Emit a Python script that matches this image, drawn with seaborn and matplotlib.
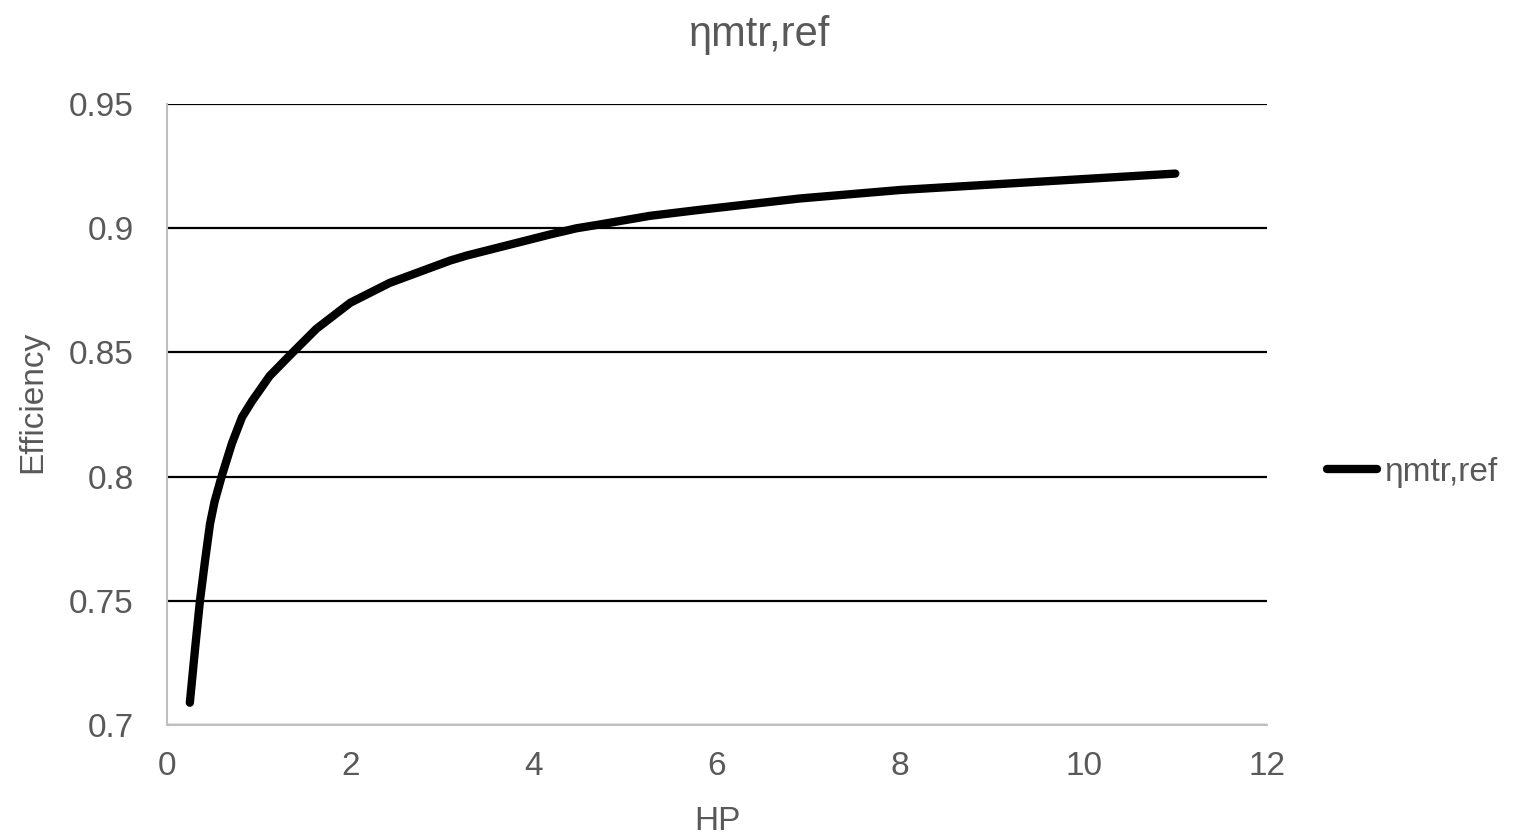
import matplotlib
matplotlib.use('Agg')
import matplotlib.pyplot as plt
import seaborn as sns
import pandas as pd

# ========== 数据 ==========
hp = [0.25, 0.305, 0.36, 0.415, 0.47, 0.52, 0.60, 0.71, 0.82, 0.93, 1.12, 1.34, 1.63,
      2.0, 2.43, 3.09, 3.27, 4.18, 4.47, 4.72, 5.27, 5.81, 6.91, 8.0, 9.27, 11.0]
eff = [0.709, 0.730, 0.750, 0.766, 0.781, 0.790, 0.8005, 0.8135, 0.824, 0.8305, 0.8405,
       0.8488, 0.8595, 0.870, 0.878, 0.887, 0.889, 0.8975, 0.900, 0.9015, 0.905, 0.9074,
       0.912, 0.9154, 0.9182, 0.922]
series_name = 'ηmtr,ref'
x_ticks = [0, 2, 4, 6, 8, 10, 12]
y_ticks = [0.7, 0.75, 0.8, 0.85, 0.9, 0.95]
y_ticklabels = ['0.7', '0.75', '0.8', '0.85', '0.9', '0.95']

df = pd.DataFrame({'HP': hp, 'Efficiency': eff, 'series': series_name})

# ========== 样式 ==========
sns.set_style('white')
plt.rcParams['font.family'] = ['Liberation Sans', 'DejaVu Sans']
TEXT = '#595959'
FS = 24

fig = plt.figure(figsize=(15.4, 8.35), dpi=100)
ax = fig.add_axes([0.1084, 0.1317, 0.7143, 0.7437])

ax.yaxis.grid(True, color='black', linewidth=1.6)
ax.set_axisbelow(True)

sns.lineplot(data=df, x='HP', y='Efficiency', hue='series', palette=['black'],
             linewidth=6, ax=ax, legend=False, sort=False)
ax.lines[-1].set_solid_capstyle('round')
ax.lines[-1].set_solid_joinstyle('round')

ax.set_xlim(0, 12)
ax.set_ylim(0.7, 0.95)
ax.set_xticks(x_ticks)
ax.set_yticks(y_ticks)
ax.set_yticklabels(y_ticklabels)
ax.tick_params(axis='both', length=0, labelsize=FS, labelcolor=TEXT)
ax.tick_params(axis='y', pad=24)
ax.tick_params(axis='x', pad=19)

for side in ['top', 'right']:
    ax.spines[side].set_visible(False)
for side in ['left', 'bottom']:
    ax.spines[side].set_color('#BFBFBF')
    ax.spines[side].set_linewidth(1.5)

ax.set_xlabel('HP', fontsize=FS, color=TEXT, labelpad=17)
ax.set_ylabel('Efficiency', fontsize=FS, color=TEXT)
ax.yaxis.set_label_coords(-0.108, 0.52)

fig.suptitle(series_name, x=0.493, y=0.982, fontsize=30, color=TEXT)

handle = plt.Line2D([], [], color='black', linewidth=6, solid_capstyle='round')
fig.legend([handle], [series_name], loc='center left', bbox_to_anchor=(0.862, 0.434),
           frameon=False, fontsize=FS, labelcolor=TEXT, handlelength=1.5,
           handletextpad=0.2, borderaxespad=0, borderpad=0)

plt.savefig('out.png', dpi=100)
